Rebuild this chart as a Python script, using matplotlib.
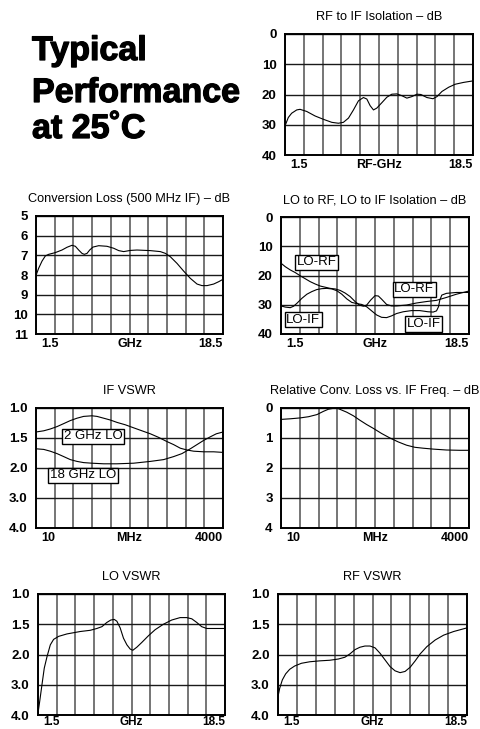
import numpy as np
import matplotlib
matplotlib.use("Agg")
import matplotlib.pyplot as plt
import matplotlib.patheffects as pe

plt.rcParams['font.family'] = ['Liberation Sans', 'DejaVu Sans']

# ---- data ----
rf_if_ghz = [1.5, 1.80, 2.10, 2.56, 2.86, 3.46, 4.22, 4.97, 5.73, 6.33, 6.78, 7.24, 7.69, 8.14, 8.59, 8.90,
             9.20, 9.50, 9.80, 10.26, 10.71, 11.16, 11.62, 12.07, 12.52, 12.97, 13.43, 13.79, 14.33, 14.88,
             15.24, 15.69, 16.30, 16.90, 17.65, 18.5]
rf_if_db = [30.4, 27.6, 26.2, 25.1, 24.9, 25.6, 27.1, 28.2, 29.2, 29.5, 29.2, 27.8, 25.1, 22.1, 21.0, 21.5,
            23.7, 25.1, 24.5, 22.7, 20.9, 19.9, 19.8, 20.4, 21.2, 20.7, 19.9, 20.0, 21.0, 21.4,
            20.7, 19.0, 17.6, 16.6, 16.0, 15.5]

cl_ghz = [1.5, 1.74, 2.05, 2.35, 2.65, 3.26, 3.86, 4.32, 4.77, 5.08, 5.38, 5.68, 5.89, 6.14, 6.38, 6.68,
          7.20, 7.95, 8.56, 9.02, 9.47, 10.08, 10.68, 11.89, 12.80, 13.26, 13.71, 14.32, 14.92, 15.53,
          16.14, 16.59, 17.05, 17.65, 18.11, 18.5]
cl_db = [8.02, 7.66, 7.29, 7.03, 6.95, 6.86, 6.73, 6.59, 6.49, 6.54, 6.73, 6.90, 6.95, 6.90, 6.73, 6.58,
         6.51, 6.54, 6.64, 6.76, 6.81, 6.75, 6.73, 6.76, 6.81, 6.90, 7.07, 7.41, 7.80, 8.17,
         8.46, 8.54, 8.54, 8.46, 8.34, 8.22]

lo_rf_ghz = [1.5, 1.89, 2.34, 2.79, 3.24, 3.69, 4.14, 4.59, 5.04, 5.49, 5.95, 6.40, 6.85, 7.30, 7.75, 8.20,
             8.59, 8.95, 9.25, 9.61, 10.0, 10.30, 10.60, 11.05, 11.50, 11.95, 12.85, 13.75, 14.66, 15.56,
             16.46, 17.36, 18.5]
lo_rf_db = [15.8, 17.0, 18.1, 19.0, 20.1, 21.1, 22.1, 22.9, 23.6, 24.0, 24.4, 24.6, 25.1, 26.0, 27.2, 28.9,
            30.1, 30.5, 30.1, 28.4, 26.9, 27.0, 28.1, 29.9, 30.4, 30.4, 30.1, 29.4, 28.9, 28.5,
            27.5, 26.4, 25.3]

lo_if_ghz = [1.5, 1.89, 2.34, 2.64, 2.94, 3.39, 3.84, 4.29, 4.74, 5.19, 5.64, 6.10, 6.55, 7.00, 7.45, 7.90,
             8.35, 8.80, 9.25, 9.70, 10.15, 10.60, 11.05, 11.50, 11.95, 12.55, 13.30, 14.05, 14.80, 15.26,
             15.56, 15.74, 15.86, 16.04, 16.46, 17.36, 18.5]
lo_if_db = [30.4, 30.8, 31.0, 30.5, 29.5, 27.8, 26.4, 25.5, 24.8, 24.5, 24.4, 24.6, 25.2, 26.4, 28.0, 29.2,
            29.6, 29.9, 30.7, 32.1, 33.5, 34.3, 34.4, 33.8, 33.0, 32.4, 32.0, 32.0, 32.4, 32.5,
            32.1, 30.7, 28.4, 26.7, 26.1, 25.8, 25.8]

if_2g_mhz = [10, 12.8, 15.8, 19.6, 24.3, 30.0, 37.2, 46.0, 60, 70.6, 87.4, 108, 134, 175, 228, 298, 390,
             509, 665, 822, 1018, 1262, 1563, 2153, 2965, 4000]
if_2g_vswr = [1.40, 1.38, 1.35, 1.31, 1.26, 1.21, 1.17, 1.14, 1.13, 1.14, 1.17, 1.20, 1.24, 1.28, 1.33, 1.38, 1.43,
              1.49, 1.56, 1.61, 1.67, 1.70, 1.72, 1.73, 1.73, 1.74]

if_18g_mhz = [10, 12.8, 15.8, 19.6, 24.3, 30.0, 37.2, 46.0, 60, 87.4, 134, 228, 390, 597, 822, 1074, 1403,
              1738, 2153, 2666, 3228, 4000]
if_18g_vswr = [1.68, 1.69, 1.72, 1.76, 1.81, 1.86, 1.89, 1.91, 1.92, 1.93, 1.93, 1.92, 1.89, 1.86, 1.81, 1.76, 1.68,
               1.61, 1.54, 1.48, 1.43, 1.40]

rel_mhz = [10, 13.4, 18.5, 24.1, 31.4, 38.8, 45.4, 53.2, 60.5, 69.4, 81.3, 100.5, 124, 153, 190, 247, 322,
           419, 547, 713, 929, 1274, 1945, 2972, 4000]
rel_db = [0.38, 0.36, 0.33, 0.29, 0.22, 0.11, 0.04, 0.01, 0.01, 0.07, 0.14, 0.26, 0.41, 0.55, 0.68, 0.85, 1.00,
          1.13, 1.24, 1.31, 1.34, 1.37, 1.40, 1.41, 1.41]

lo_vswr_ghz = [1.5, 1.65, 1.86, 2.07, 2.32, 2.62, 2.92, 3.38, 4.13, 5.34, 6.25, 6.85, 7.31, 7.76, 8.12, 8.43,
               8.67, 8.97, 9.27, 9.58, 9.88, 10.12, 10.48, 10.94, 11.54, 12.15, 12.90, 13.66, 14.42, 15.02,
               15.48, 15.93, 16.38, 16.84, 17.59, 18.5]
lo_vswr = [3.94, 3.56, 3.00, 2.45, 2.07, 1.84, 1.75, 1.70, 1.66, 1.62, 1.60, 1.57, 1.54, 1.47, 1.43, 1.42,
           1.45, 1.56, 1.73, 1.84, 1.91, 1.93, 1.88, 1.80, 1.69, 1.59, 1.50, 1.43, 1.39, 1.39,
           1.41, 1.47, 1.54, 1.57, 1.57, 1.57]

rf_vswr_ghz = [1.5, 1.65, 1.89, 2.19, 2.55, 3.0, 3.61, 4.36, 5.26, 6.16, 6.92, 7.52, 7.97, 8.42, 8.87, 9.32,
               9.78, 10.23, 10.68, 11.13, 11.58, 12.03, 12.48, 12.93, 13.39, 13.84, 14.29, 14.89, 15.64,
               16.40, 17.30, 18.5]
rf_vswr = [3.39, 3.12, 2.84, 2.64, 2.49, 2.38, 2.29, 2.24, 2.21, 2.19, 2.15, 2.09, 1.99, 1.92, 1.88, 1.86,
           1.86, 1.89, 1.98, 2.18, 2.40, 2.54, 2.60, 2.56, 2.42, 2.21, 1.99, 1.87, 1.76,
           1.68, 1.62, 1.56]

vswr_ticks = [1.0, 1.5, 2.0, 3.0, 4.0]
vswr_labels = ['1.0', '1.5', '2.0', '3.0', '4.0']
ghz_labels = ['1.5', 'GHz', '18.5']

W, H = 480, 729
fig = plt.figure(figsize=(W / 100, H / 100), dpi=100)


def make_ax(x0, y0, x1, y1):
    # pixel box (top-left origin) -> figure fraction
    return fig.add_axes([x0 / W, 1 - y1 / H, (x1 - x0) / W, (y1 - y0) / H])


def style(ax, title, xlabels, yticks, ylabels, xgrid, logx=False, xfs=9, xoff=-3):
    ax.set_xscale('log' if logx else 'linear')
    ax.set_xlim(xgrid[0], xgrid[-1])
    ax.set_xticks(xgrid)
    ax.set_xticklabels([])
    ax.set_yticks(yticks)
    ax.set_yticklabels(ylabels, fontsize=9.5, fontweight='bold')
    ax.xaxis.set_minor_locator(matplotlib.ticker.NullLocator())
    ax.yaxis.set_minor_locator(matplotlib.ticker.NullLocator())
    ax.tick_params(length=0, pad=6)
    ax.xaxis.grid(True, color='#6a6a6a', lw=1.3)
    ax.yaxis.grid(True, color='#1a1a1a', lw=1.0)
    for s in ax.spines.values():
        s.set_linewidth(1.4)
    ax.annotate(title, (0.5, 1), xycoords='axes fraction', xytext=(0, 12),
                textcoords='offset points', ha='center', va='center', fontsize=9.2)
    for xf, ha, lab in zip([0.03, 0.5, 1.0], ['left', 'center', 'right'], xlabels):
        ax.annotate(lab, (xf, 0), xycoords='axes fraction', xytext=(0, xoff),
                    textcoords='offset points', ha=ha, va='top',
                    fontsize=xfs, fontweight='bold')


def label_box(ax, x, y, s):
    ax.text(x, y, s, ha='center', va='center', fontsize=9.5,
            bbox=dict(boxstyle='square,pad=0.12', fc='white', ec='black', lw=1.0))


def vswr_fwd(v):
    return np.interp(v, vswr_ticks, [0, 1, 2, 3, 4])


def vswr_inv(p):
    return np.interp(p, [0, 1, 2, 3, 4], vswr_ticks)


ghz_grid = np.linspace(1.5, 18.5, 11)
mhz_grid = np.geomspace(10, 4000, 11)

# title block
for yy, line in zip([60, 102, 138], ['Typical', 'Performance', 'at 25˚C']):
    fig.text(32 / W, 1 - yy / H, line, fontsize=24.5, fontweight='bold',
             va='baseline', ha='left',
             path_effects=[pe.withStroke(linewidth=0.9, foreground='black')])

# RF to IF isolation
ax = make_ax(285, 34, 473, 155)
ax.plot(rf_if_ghz, rf_if_db, color='black', lw=0.8)
style(ax, 'RF to IF Isolation – dB', ['1.5', 'RF-GHz', '18.5'],
      [0, 10, 20, 30, 40], ['0', '10', '20', '30', '40'], ghz_grid)
ax.set_ylim(40, 0)

# Conversion loss
ax = make_ax(36, 216, 223, 334)
ax.plot(cl_ghz, cl_db, color='black', lw=0.8)
style(ax, 'Conversion Loss (500 MHz IF) – dB', ghz_labels,
      list(range(5, 12)), [str(v) for v in range(5, 12)], ghz_grid)
ax.set_ylim(11, 5)

# LO to RF, LO to IF isolation
ax = make_ax(281, 217, 469, 334)
ax.plot(lo_rf_ghz, lo_rf_db, color='black', lw=0.8)
ax.plot(lo_if_ghz, lo_if_db, color='black', lw=0.8)
style(ax, 'LO to RF, LO to IF Isolation – dB', ghz_labels,
      [0, 10, 20, 30, 40], ['0', '10', '20', '30', '40'], ghz_grid)
ax.set_ylim(40, 0)
label_box(ax, 4.7, 15.5, 'LO-RF')
label_box(ax, 13.55, 24.7, 'LO-RF')
label_box(ax, 3.5, 35.1, 'LO-IF')
label_box(ax, 14.4, 36.6, 'LO-IF')

# IF VSWR
ax = make_ax(36, 408, 223, 528)
ax.set_yscale('function', functions=(vswr_fwd, vswr_inv))
ax.plot(if_2g_mhz, if_2g_vswr, color='black', lw=0.8)
ax.plot(if_18g_mhz, if_18g_vswr, color='black', lw=0.8)
style(ax, 'IF VSWR', ['10', 'MHz', '4000'], vswr_ticks, vswr_labels,
      mhz_grid, logx=True)
ax.set_ylim(4.0, 1.0)
label_box(ax, 62, 1.47, '2 GHz LO')
label_box(ax, 45, 2.24, '18 GHz LO')

# Relative conversion loss vs IF freq
ax = make_ax(281, 408, 469, 528)
ax.plot(rel_mhz, rel_db, color='black', lw=0.8)
style(ax, 'Relative Conv. Loss vs. IF Freq. – dB', ['10', 'MHz', '4000'],
      [0, 1, 2, 3, 4], ['0', '1', '2', '3', '4'], mhz_grid, logx=True)
ax.set_ylim(4, 0)

# LO VSWR
ax = make_ax(38, 594, 225, 715)
ax.set_yscale('function', functions=(vswr_fwd, vswr_inv))
ax.plot(lo_vswr_ghz, lo_vswr, color='black', lw=0.8)
style(ax, 'LO VSWR', ghz_labels, vswr_ticks, vswr_labels, ghz_grid,
      xfs=8.5, xoff=-0.5)
ax.set_ylim(4.0, 1.0)

# RF VSWR
ax = make_ax(278, 594, 467, 715)
ax.set_yscale('function', functions=(vswr_fwd, vswr_inv))
ax.plot(rf_vswr_ghz, rf_vswr, color='black', lw=0.8)
style(ax, 'RF VSWR', ghz_labels, vswr_ticks, vswr_labels, ghz_grid,
      xfs=8.5, xoff=-0.5)
ax.set_ylim(4.0, 1.0)

fig.savefig('out.png', dpi=100)
